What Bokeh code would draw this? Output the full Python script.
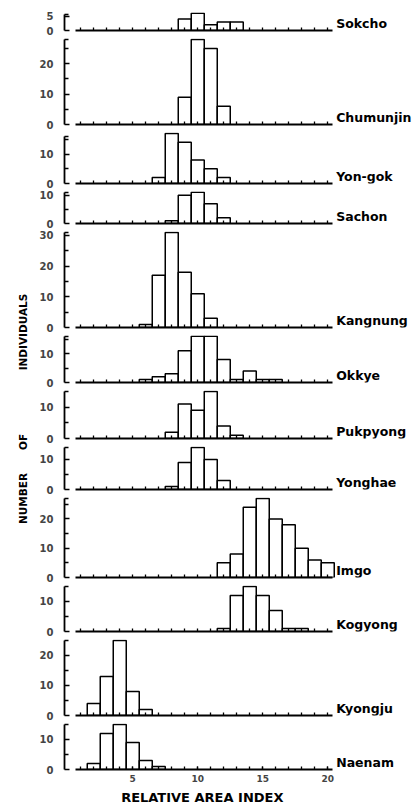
import math
from bokeh.plotting import figure
from bokeh.models import Range1d, FixedTicker, ColumnDataSource
from bokeh.layouts import column, row
from bokeh.embed import file_html
from bokeh.resources import INLINE
from bokeh.core.properties import value

# ---------------- data ----------------
sites = ["Sokcho", "Chumunjin", "Yon-gok", "Sachon", "Kangnung", "Okkye",
         "Pukpyong", "Yonghae", "Imgo", "Kogyong", "Kyongju", "Naenam"]

sokcho_x = [9, 10, 11, 12, 13]
sokcho_n = [4, 6, 2, 3, 3]
chumunjin_x = [9, 10, 11, 12]
chumunjin_n = [9, 28, 25, 6]
yongok_x = [7, 8, 9, 10, 11, 12]
yongok_n = [2, 17, 14, 8, 5, 2]
sachon_x = [8, 9, 10, 11, 12]
sachon_n = [1, 10, 11, 7, 2]
kangnung_x = [6, 7, 8, 9, 10, 11]
kangnung_n = [1, 17, 31, 18, 11, 3]
okkye_x = [6, 7, 8, 9, 10, 11, 12, 13, 14, 15, 16]
okkye_n = [1, 2, 3, 11, 16, 16, 8, 1, 4, 1, 1]
pukpyong_x = [8, 9, 10, 11, 12, 13]
pukpyong_n = [2, 11, 9, 15, 4, 1]
yonghae_x = [8, 9, 10, 11, 12]
yonghae_n = [1, 9, 14, 10, 3]
imgo_x = [12, 13, 14, 15, 16, 17, 18, 19, 20]
imgo_n = [5, 8, 24, 27, 20, 18, 10, 6, 5]
kogyong_x = [12, 13, 14, 15, 16, 17, 18]
kogyong_n = [1, 12, 15, 12, 7, 1, 1]
kyongju_x = [2, 3, 4, 5, 6]
kyongju_n = [4, 13, 25, 8, 2]
naenam_x = [2, 3, 4, 5, 6, 7]
naenam_n = [2, 12, 15, 9, 3, 1]

# top of each panel's vertical axis (counts)
axis_top = [5.5, 28, 16, 11, 31, 16, 15, 14, 27, 15, 25, 15]

x_tick_labels = [5, 10, 15, 20]
x_title = "RELATIVE AREA INDEX"
y_title_words = ["NUMBER", "OF", "INDIVIDUALS"]

series = [(sokcho_x, sokcho_n), (chumunjin_x, chumunjin_n), (yongok_x, yongok_n),
          (sachon_x, sachon_n), (kangnung_x, kangnung_n), (okkye_x, okkye_n),
          (pukpyong_x, pukpyong_n), (yonghae_x, yonghae_n), (imgo_x, imgo_n),
          (kogyong_x, kogyong_n), (kyongju_x, kyongju_n), (naenam_x, naenam_n)]

# ---------------- layout constants ----------------
FONT = "DejaVu Sans"
LEFT_W = 36
PANEL_W = 413 - LEFT_W
BORDER_L = 28
FRAME_W = PANEL_W - BORDER_L
PX_PER_UNIT = 13.0
X0 = -0.25
frame_h = [18, 86, 51, 32, 96, 47, 48, 43, 80, 46, 76, 46]
GAP_TOP = 2
GAP_BOTTOM = 6
TOP_FIRST = 12
BOTTOM_LAST = 18
FOOTER_H = 20

x_range = Range1d(X0, X0 + FRAME_W / PX_PER_UNIT)

panels = []
n_panels = len(sites)
for i, (name, (xs, ns), cap, fh) in enumerate(zip(sites, series, axis_top, frame_h)):
    last = i == n_panels - 1
    bt = TOP_FIRST if i == 0 else GAP_TOP
    bb = BOTTOM_LAST if last else GAP_BOTTOM
    y_end = max(cap, max(ns)) + 0.3
    p = figure(width=PANEL_W, height=fh + bt + bb, x_range=x_range,
               y_range=Range1d(0, y_end), output_backend="svg",
               toolbar_location=None, title=None,
               min_border_left=BORDER_L, min_border_right=0,
               min_border_top=bt, min_border_bottom=bb)
    p.outline_line_color = None
    p.xgrid.visible = False
    p.ygrid.visible = False
    p.background_fill_color = "white"
    p.border_fill_color = "white"

    src = ColumnDataSource(dict(x=xs, n=ns))
    p.vbar(x="x", top="n", bottom=0, width=1.0, source=src,
           fill_color="white", line_color="black", line_width=1.5)

    # right-hand site label
    p.text(x=[20.65], y=[0], text=[name], text_font=value(FONT),
           text_font_style="bold", text_font_size="12.5px",
           text_align="left", text_baseline="middle", y_offset=-7,
           text_color="black")

    # x axis
    xa = p.xaxis[0]
    xa.bounds = (0.6, 20.4)
    minor = list(range(1, 21))
    if last:
        xa.ticker = FixedTicker(ticks=x_tick_labels, minor_ticks=minor)
        xa.major_label_text_font = FONT
        xa.major_label_text_font_style = "bold"
        xa.major_label_text_font_size = "9px"
        xa.major_label_standoff = 5
    else:
        xa.ticker = FixedTicker(ticks=[], minor_ticks=minor)
        xa.major_label_standoff = 0
    xa.axis_line_width = 1.8
    xa.axis_line_color = "black"
    xa.major_tick_in = 3
    xa.major_tick_out = 0
    xa.minor_tick_in = 3
    xa.minor_tick_out = 0
    xa.major_tick_line_width = 1.3
    xa.minor_tick_line_width = 1.3

    # y axis
    ya = p.yaxis[0]
    ya.bounds = (0, cap)
    step = 5 if cap < 10 else 10
    majors = [v for v in range(0, int(cap) + 1, step)]
    minors = [v for v in range(5, int(cap) + 1, 10)] if step == 10 else []
    if cap not in majors and cap not in minors:
        minors.append(cap)
    ya.ticker = FixedTicker(ticks=majors, minor_ticks=minors)
    ya.axis_line_width = 1.8
    ya.axis_line_color = "black"
    ya.major_tick_in = 5
    ya.major_tick_out = 0
    ya.minor_tick_in = 4
    ya.minor_tick_out = 0
    ya.major_tick_line_width = 1.6
    ya.minor_tick_line_width = 1.6
    ya.major_label_text_font = FONT
    ya.major_label_text_font_style = "bold"
    ya.major_label_text_font_size = "10px"
    ya.major_label_standoff = 11
    panels.append(p)

# footer with the x-axis title, centred on the 0-20 scale
footer = figure(width=PANEL_W, height=FOOTER_H, x_range=x_range,
                y_range=Range1d(0, 1), output_backend="svg",
                toolbar_location=None, title=None,
                min_border_left=BORDER_L, min_border_right=0,
                min_border_top=0, min_border_bottom=0)
footer.axis.visible = False
footer.grid.visible = False
footer.outline_line_color = None
footer.text(x=[10.35], y=[0.5], text=[x_title], text_font=value(FONT),
            text_font_style="bold", text_font_size="13px",
            text_align="center", text_baseline="middle", text_color="black")

# left strip with the y-axis title
TOTAL_H = 807
left = figure(width=LEFT_W, height=TOTAL_H, x_range=Range1d(0, LEFT_W),
              y_range=Range1d(0, TOTAL_H), output_backend="svg",
              toolbar_location=None, title=None, min_border=0)
left.axis.visible = False
left.grid.visible = False
left.outline_line_color = None
word_centres = [498, 441.5, 331.5]   # screen y of each word's centre
left.text(x=[22] * 3, y=[TOTAL_H - c for c in word_centres], text=y_title_words,
          angle=math.pi / 2, text_font=value(FONT), text_font_style="bold",
          text_font_size="10.5px", text_align="center",
          text_baseline="middle", text_color="black")

layout = row(left, column(*panels, footer, spacing=0), spacing=0)
open("out.html", "w").write(file_html(layout, INLINE))
